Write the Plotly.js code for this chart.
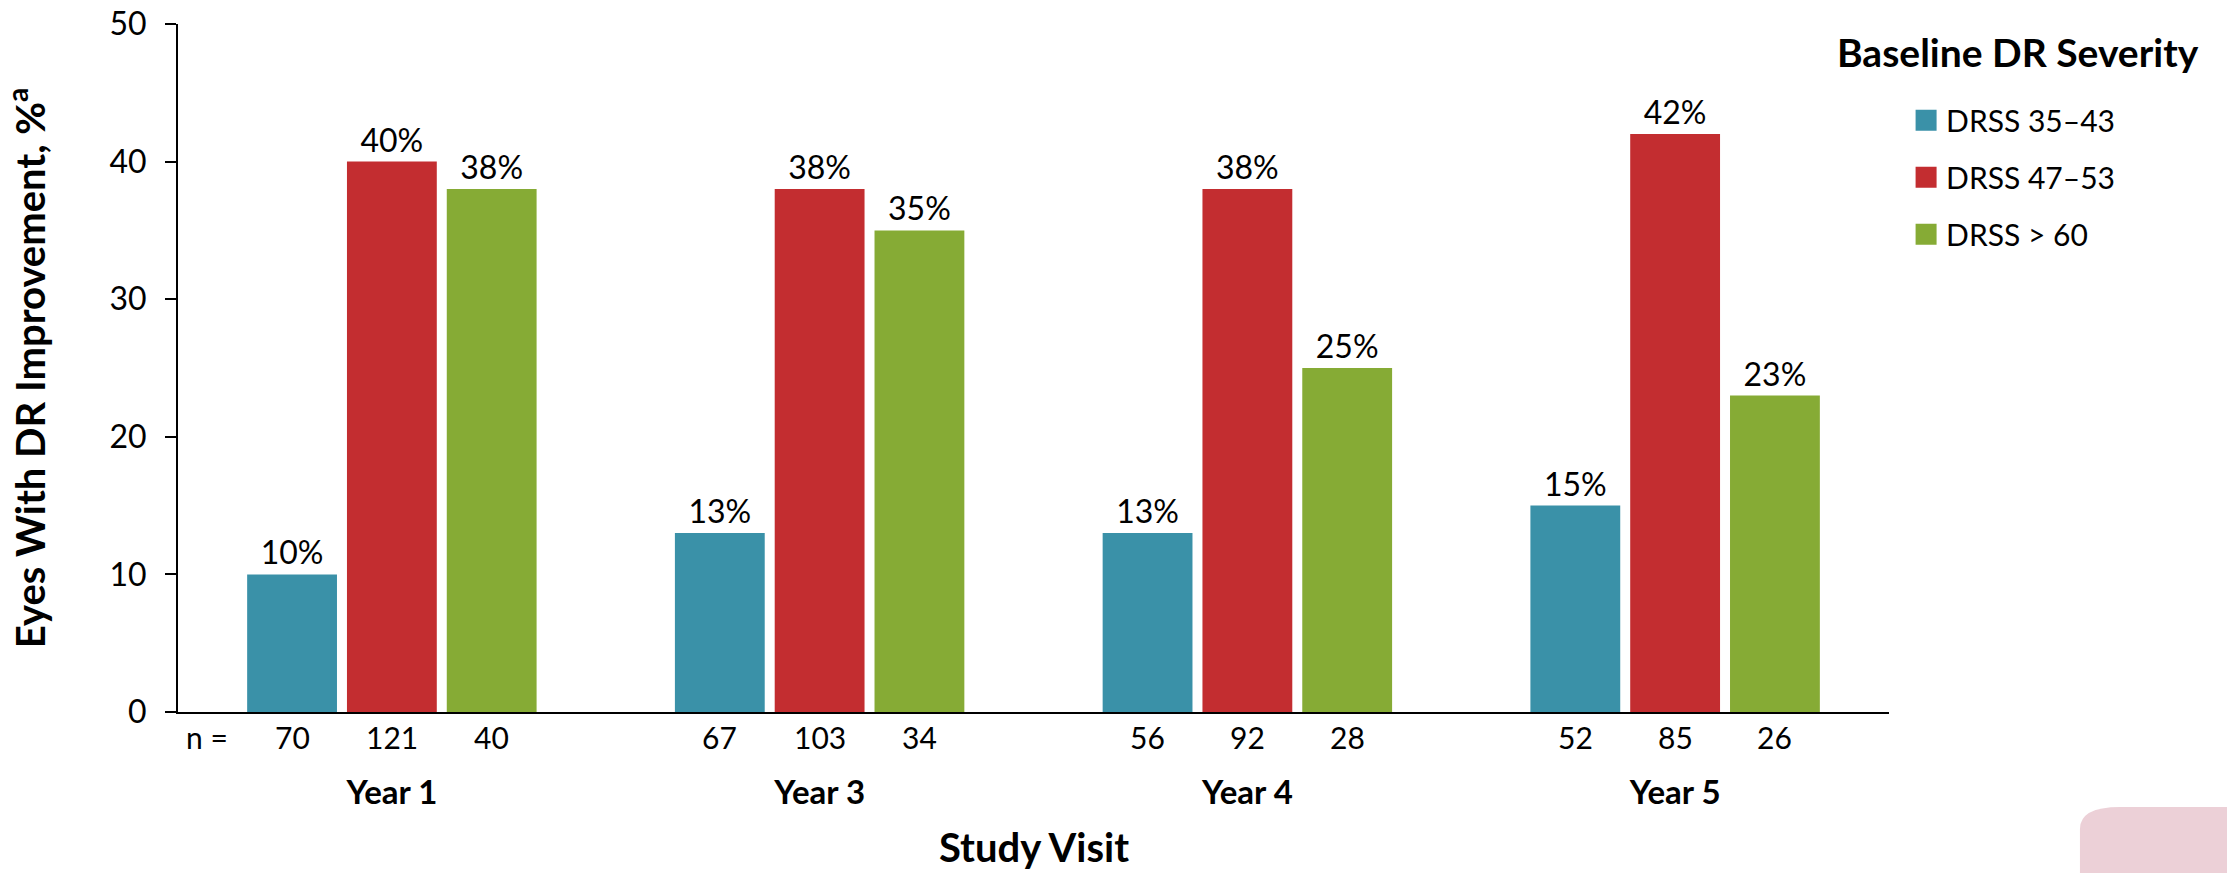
<!DOCTYPE html>
<html>
<head>
<meta charset="utf-8">
<script src="https://cdn.plot.ly/plotly-3.0.1.min.js"></script>
<style>
  html, body { margin: 0; padding: 0; background: #fff; }
  #chart { width: 2227px; height: 873px; }
</style>
</head>
<body>
<div id="chart"></div>
<script>
// ---- data ----
const years = ['Year 1', 'Year 3', 'Year 4', 'Year 5'];
const seriesNames = ['DRSS 35\u201343', 'DRSS 47\u201353', 'DRSS > 60'];
const pct35_43 = [10, 13, 13, 15];
const pct47_53 = [40, 38, 38, 42];
const pct60 = [38, 35, 25, 23];
const n35_43 = [70, 67, 56, 52];
const n47_53 = [121, 103, 92, 85];
const n60 = [40, 34, 28, 26];
const legendTitle = 'Baseline DR Severity';
const xTitle = 'Study Visit';
const colors = ['#3A91A8', '#C32D30', '#86AB35'];

const FONT = 'Lato, "Open Sans", sans-serif';
const BARGAP = 0.3;
const pctSeries = [pct35_43, pct47_53, pct60];
const nSeries = [n35_43, n47_53, n60];

const traces = pctSeries.map((vals, k) => ({
  type: 'bar',
  name: seriesNames[k],
  legendgroup: 'g' + k,
  x: years,
  y: vals,
  marker: { color: colors[k], line: { width: 0 } },
  texttemplate: '%{y}%',
  textposition: 'outside',
  textfont: { family: FONT, size: 32, color: '#000' },
  cliponaxis: false,
  hoverinfo: 'skip'
}));

// n = labels beneath each bar
const slot = (1 - BARGAP) / seriesNames.length;
const annotations = [{
  xref: 'paper', yref: 'paper', x: 0.017, y: 0, yshift: -25,
  xanchor: 'center', yanchor: 'middle', showarrow: false,
  text: 'n =', font: { family: FONT, size: 30, color: '#000' }
}, {
  xref: 'paper', yref: 'paper', x: 1.0754, y: 0.9593,
  xanchor: 'center', yanchor: 'middle', showarrow: false,
  text: '<b>' + legendTitle + '</b>', font: { family: FONT, size: 39, color: '#000' }
}, {
  xref: 'paper', yref: 'paper', x: 0.5, y: -0.196,
  xanchor: 'center', yanchor: 'middle', showarrow: false,
  text: '<b>' + xTitle + '</b>', font: { family: FONT, size: 40, color: '#000' }
}];
nSeries.forEach((ns, k) => {
  ns.forEach((nv, i) => {
    annotations.push({
      xref: 'x', yref: 'paper', x: i + (k - 1) * slot, y: 0, yshift: -25,
      xanchor: 'center', yanchor: 'middle', showarrow: false,
      text: String(nv), font: { family: FONT, size: 30, color: '#000' }
    });
  });
});

const layout = {
  width: 2227, height: 873,
  margin: { l: 178, r: 338, t: 24, b: 161 },
  paper_bgcolor: '#fff', plot_bgcolor: '#fff',
  font: { family: FONT, color: '#000' },
  barmode: 'group',
  bargap: BARGAP,
  bargroupgap: 0.1,
  showlegend: true,
  legend: {
    xref: 'container', yref: 'container',
    x: 0.8559, xanchor: 'left', y: 0.892, yanchor: 'top',
    font: { family: FONT, size: 30, color: '#000' },
    tracegroupgap: 15,
    bgcolor: 'rgba(0,0,0,0)'
  },
  xaxis: {
    type: 'category',
    range: [-0.5, 3.5],
    showline: true, linecolor: '#000', linewidth: 2,
    ticks: '', showgrid: false, zeroline: false,
    tickfont: { family: FONT, size: 33, color: '#000' },
    tickprefix: '<b>', ticksuffix: '</b>',
    ticklabelstandoff: 50,
    fixedrange: true
  },
  yaxis: {
    range: [0, 50],
    tickvals: [0, 10, 20, 30, 40, 50],
    showline: true, linecolor: '#000', linewidth: 2,
    ticks: 'outside', ticklen: 11, tickwidth: 2, tickcolor: '#000',
    showgrid: false, zeroline: false,
    tickfont: { family: FONT, size: 32, color: '#000' },
    ticklabelstandoff: 12,
    title: { text: '<b>Eyes With DR Improvement, %<sup>a</sup></b>', font: { family: FONT, size: 40, color: '#000' }, standoff: 80 },
    fixedrange: true
  },
  annotations: annotations,
  shapes: [{
    type: 'path', xref: 'paper', yref: 'paper', layer: 'above',
    path: 'M 1.1116,-0.26 L 1.1116,-0.17 Q 1.1116,-0.138 1.135,-0.138 L 1.21,-0.138 L 1.21,-0.26 Z',
    fillcolor: '#ecd0d7', line: { width: 0 }
  }]
};

Plotly.newPlot('chart', traces, layout, { staticPlot: true, displayModeBar: false }).then(() => {
  document.querySelectorAll('.legend .legendpoints path').forEach(p => {
    const t = p.getAttribute('transform') || '';
    p.setAttribute('transform', t + ' scale(1.75)');
  });
});
</script>
</body>
</html>
